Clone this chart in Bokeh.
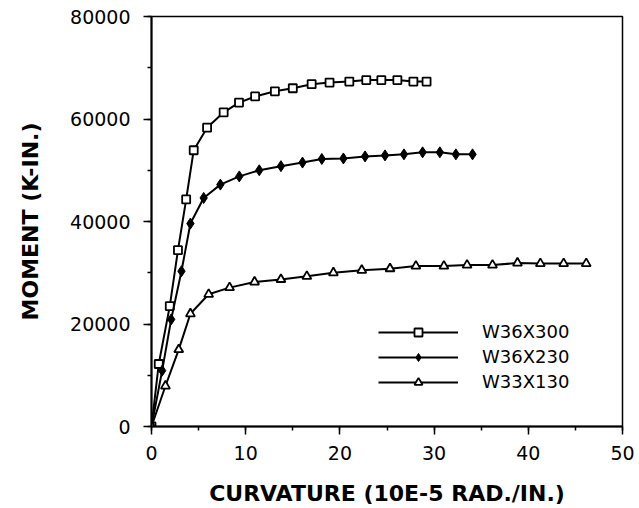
from bokeh.plotting import figure
from bokeh.models import Legend, LegendItem, SingleIntervalTicker, Range1d
from bokeh.embed import file_html
from bokeh.resources import INLINE

# Data
curv_300 = [0, 0.77, 1.94, 2.81, 3.68, 4.48, 5.9, 7.66, 9.29, 11.0, 13.1, 15.0, 17.0, 18.9, 21.0, 22.8, 24.4, 26.1, 27.8, 29.2]
mom_300 = [0, 12200, 23500, 34400, 44300, 53900, 58300, 61300, 63200, 64400, 65400, 66000, 66800, 67100, 67300, 67600, 67600, 67600, 67300, 67300]

curv_230 = [0, 1.13, 2.09, 3.18, 4.13, 5.54, 7.31, 9.32, 11.44, 13.74, 16.03, 18.08, 20.37, 22.67, 24.79, 26.8, 28.78, 30.61, 32.31, 34.08]
mom_230 = [0, 10900, 20900, 30300, 39600, 44600, 47200, 48800, 50000, 50800, 51500, 52200, 52300, 52700, 52900, 53100, 53500, 53500, 53100, 53100]

curv_130 = [0, 1.48, 2.89, 4.13, 6.07, 8.29, 10.94, 13.74, 16.49, 19.31, 22.32, 25.32, 28.07, 31.04, 33.5, 36.2, 38.85, 41.28, 43.75, 46.15]
mom_130 = [0, 7900, 15000, 22000, 25800, 27100, 28200, 28700, 29300, 30000, 30500, 30800, 31300, 31300, 31500, 31500, 31900, 31800, 31800, 31800]

series_names = ["W36X300", "W36X230", "W33X130"]
x_label = "CURVATURE (10E-5 RAD./IN.)"
y_label = "MOMENT (K-IN.)"

p = figure(width=639, height=508, output_backend="svg", toolbar_location=None,
           x_range=Range1d(0, 50), y_range=Range1d(0, 80000))
p.min_border_left = 151
p.min_border_right = 17
p.min_border_top = 16
p.min_border_bottom = 81
p.background_fill_color = "white"
p.border_fill_color = "white"
p.grid.visible = False
p.outline_line_color = "black"
p.outline_line_width = 1.5

for ax in (p.xaxis[0], p.yaxis[0]):
    ax.axis_line_width = 2
    ax.axis_line_color = "black"
    ax.major_tick_line_width = 1.5
    ax.minor_tick_line_width = 1.5
    ax.major_tick_out = 8
    ax.major_tick_in = 0
    ax.minor_tick_out = 4
    ax.minor_tick_in = 0
    ax.major_label_text_font = "DejaVu Sans"
    ax.major_label_text_font_size = "19px"
    ax.major_label_text_color = "black"
    ax.axis_label_text_font = "DejaVu Sans"
    ax.axis_label_text_font_style = "bold"
    ax.axis_label_text_font_size = "22px"
    ax.axis_label_text_color = "black"

p.xaxis.ticker = SingleIntervalTicker(interval=10, num_minor_ticks=2)
p.yaxis.ticker = SingleIntervalTicker(interval=20000, num_minor_ticks=2)
p.xaxis.major_label_standoff = 11
p.yaxis.major_label_standoff = 13
p.xaxis.axis_label_standoff = 18
p.yaxis.axis_label_standoff = 24
p.xaxis.axis_label = x_label
p.yaxis.axis_label = y_label
p.yaxis.major_label_orientation = "horizontal"

lw = 2
r1l = p.line(curv_300, mom_300, line_color="black", line_width=lw)
r1m = p.scatter(curv_300, mom_300, marker="square", size=8, fill_color="white", line_color="black", line_width=1.8)
r2l = p.line(curv_230, mom_230, line_color="black", line_width=lw)
r2m = p.scatter(curv_230, mom_230, marker="diamond", size=11, fill_color="black", line_color="black")
r3l = p.line(curv_130, mom_130, line_color="black", line_width=lw)
r3m = p.scatter(curv_130, mom_130, marker="triangle", size=9, fill_color="white", line_color="black", line_width=1.8)

legend = Legend(items=[
    LegendItem(label=series_names[0], renderers=[r1l, r1m]),
    LegendItem(label=series_names[1], renderers=[r2l, r2m]),
    LegendItem(label=series_names[2], renderers=[r3l, r3m]),
], location=(227, 34))
legend.glyph_width = 80
legend.glyph_height = 20
legend.label_height = 20
legend.spacing = 4
legend.label_standoff = 24
legend.padding = 0
legend.margin = 0
legend.border_line_color = None
legend.background_fill_alpha = 0
legend.label_text_font = "DejaVu Sans"
legend.label_text_font_size = "18px"
legend.label_text_color = "black"
p.add_layout(legend, "center")

open("out.html", "w").write(file_html(p, INLINE))
